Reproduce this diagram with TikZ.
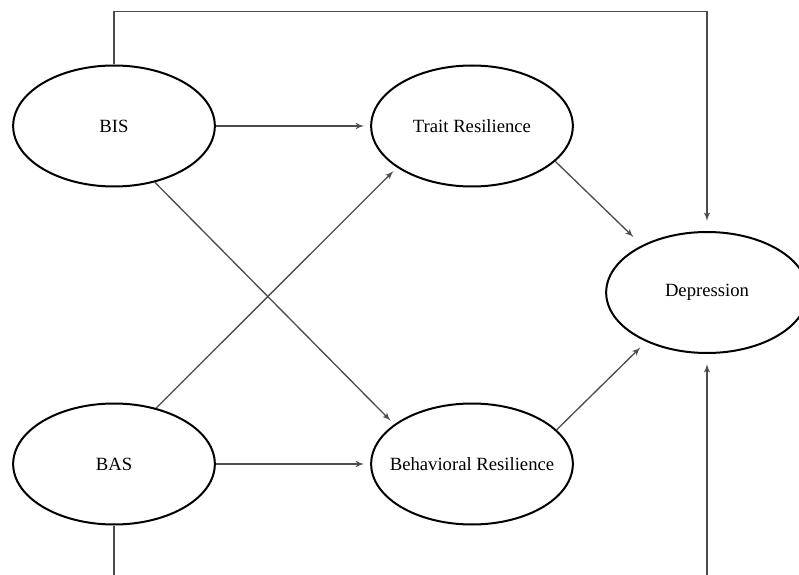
\documentclass[tikz,border=0pt]{standalone}
\usepackage{fontspec}
\setmainfont{Liberation Serif}
\usetikzlibrary{shapes,arrows,calc}
\tikzstyle{line} = [draw, black!70, line width=0.8pt, -latex']
\tikzstyle{latent} = [draw, ellipse, line width=1.2pt, minimum width=121pt, minimum height=72.6pt, inner ysep=0pt, inner xsep=-25pt, text centered, font=\fontsize{11.2}{13}\selectfont]

\begin{document}
\begin{tikzpicture}[node distance=214.8pt, auto]
        \useasboundingbox (-68.4pt,-269.4pt) rectangle (411pt,75.6pt);
        \node[latent] (bis) {BIS};
        \node[latent, right of=bis] (trait) {Trait Resilience};
        \node[latent, below of=bis, node distance=202.8pt] (bas) {BAS};
        \node[latent, right of=bas] (behav) {Behavioral Resilience};
        \node[latent] (dep) at ($(trait)!0.5!(behav)+(141pt,1.5pt)$) {Depression};
        \path[line, shorten >=3.6pt] (bis) -- (trait);
        \path[line, shorten >=3.6pt] (bas) -- (behav);
        \path[line, shorten >=3pt] (bis.-54) -- (behav.153);
        \path[line, shorten >=3pt] (bas.53) -- (trait.209);
        \path[line, shorten >=7pt] (trait.-23) -- (dep.144);
        \path[line, shorten >=4.8pt] (behav.22) -- (dep.219);
        % direct paths to depression
        \path[line, shorten >=6pt] (bis.north) -- ++(0,31.8pt) -| (dep.north);
        \path[line, shorten >=6pt] (bas.south) -- ++(0,-60pt) -| (dep.south);
    \end{tikzpicture}
\end{document}
